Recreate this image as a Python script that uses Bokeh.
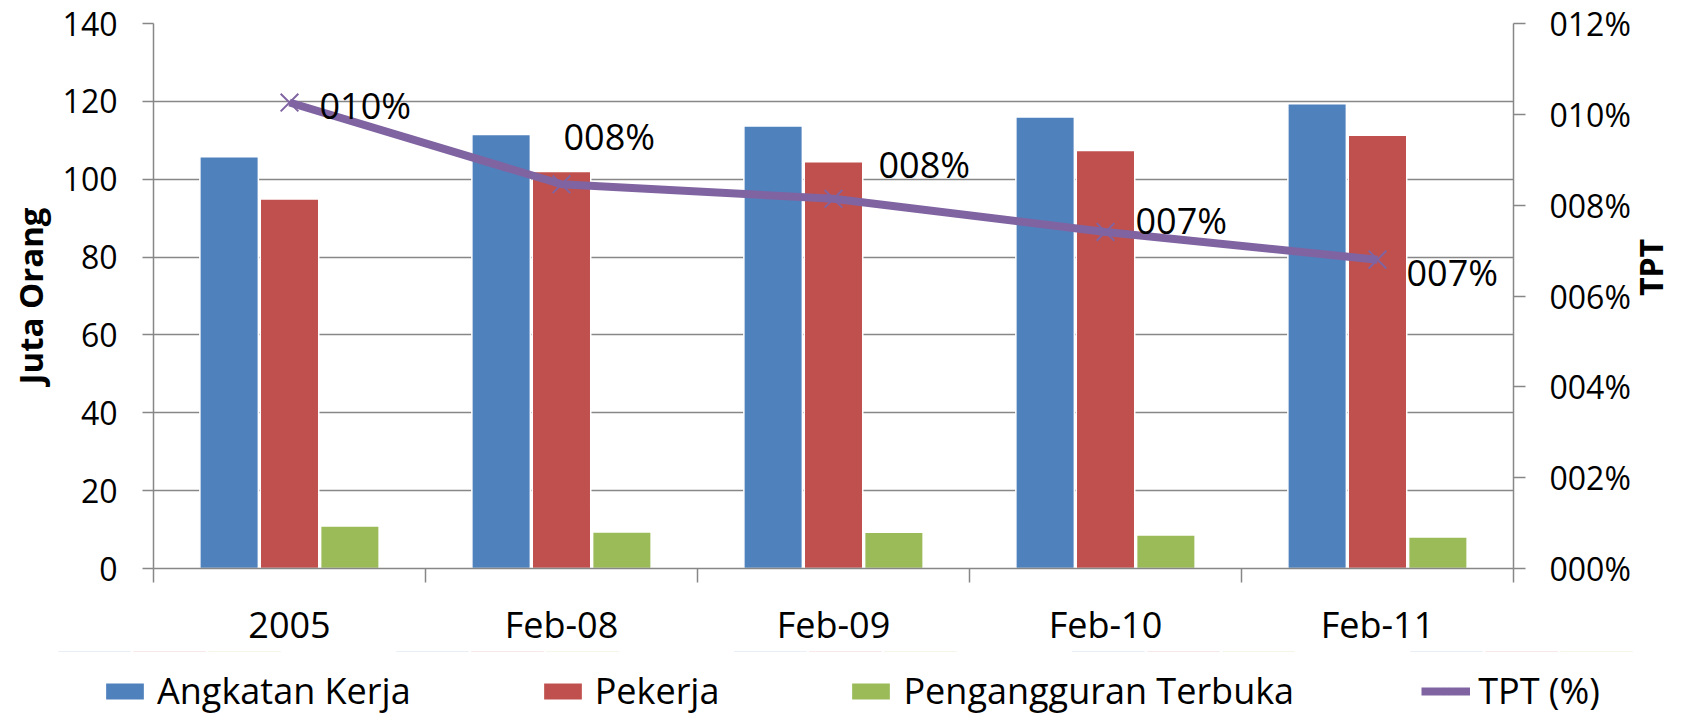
import math
from bokeh.plotting import figure
from bokeh.models import (Range1d, LinearAxis, FixedTicker, ColumnDataSource,
                          Legend, LegendItem)
from bokeh.transform import dodge
from bokeh.core.properties import value
from bokeh.embed import file_html
from bokeh.resources import INLINE

# ---------------- data ----------------
categories = ["2005", "Feb-08", "Feb-09", "Feb-10", "Feb-11"]
angkatan_kerja = [105.8, 111.5, 113.7, 116.0, 119.4]
pekerja = [94.9, 102.0, 104.5, 107.4, 111.3]
pengangguran = [10.9, 9.4, 9.3, 8.6, 8.1]
tpt = [0.1026, 0.0846, 0.0814, 0.0741, 0.0680]

left_ticks = [0, 20, 40, 60, 80, 100, 120, 140]
right_ticks = [0.0, 0.02, 0.04, 0.06, 0.08, 0.10, 0.12]
right_tick_labels = ["000%", "002%", "004%", "006%", "008%", "010%", "012%"]
legend_labels = ["Angkatan Kerja", "Pekerja", "Pengangguran Terbuka", "TPT (%)"]

# manual label placement (pixels, relative to each marker)
label_dx = [30, 2, 45, 30, 29]
label_dy = [3, -48, -34, -11, 13]

FONT = "Open Sans"
GRID = "#878787"
BLUE, RED, GREEN, PURPLE = "#4F81BD", "#C0504D", "#9BBB59", "#8064A2"

xs = list(range(len(categories)))
src = ColumnDataSource(dict(
    x=xs, ak=angkatan_kerja, pk=pekerja, pg=pengangguran, tpt=tpt,
    lbl=[f"{round(v * 100):03d}%" for v in tpt],
    dx=label_dx, dy=label_dy,
))

W = 1690
p = figure(frame_width=1360, frame_height=545, output_backend="svg",
           toolbar_location=None,
           x_range=Range1d(-0.5, len(categories) - 0.5), y_range=Range1d(0, 140),
           min_border_left=153, min_border_right=0, min_border_top=23,
           min_border_bottom=0)
p.outline_line_color = None
p.background_fill_color = "white"
p.border_fill_color = "white"
p.xgrid.visible = False
p.ygrid.grid_line_color = GRID
p.ygrid.grid_line_width = 1.5
p.ygrid.ticker = FixedTicker(ticks=left_ticks)

p.extra_y_ranges = {"tpt": Range1d(0, 0.12)}

bw = 0.215
off = 0.222
bar_style = dict(line_color="white", line_width=1.5)
line_style = dict(line_color=PURPLE, line_width=8)
mark_style = dict(marker="x", size=25, line_color=PURPLE, line_width=2)


def draw_series(fig, **kw):
    """Bars, line and markers of the chart, drawn from the data arrays."""
    b1 = fig.vbar(x=dodge("x", -off, range=fig.x_range), top="ak", width=bw,
                  source=src, fill_color=BLUE, **bar_style)
    b2 = fig.vbar(x=dodge("x", 0, range=fig.x_range), top="pk", width=bw,
                  source=src, fill_color=RED, **bar_style)
    b3 = fig.vbar(x=dodge("x", off, range=fig.x_range), top="pg", width=bw,
                  source=src, fill_color=GREEN, **bar_style)
    ln = fig.line(x="x", y="tpt", source=src, **line_style, **kw)
    mk = fig.scatter(x="x", y="tpt", source=src, **mark_style, **kw)
    return b1, b2, b3, ln, mk


draw_series(p, y_range_name="tpt")
p.text(x="x", y="tpt", text="lbl", source=src, y_range_name="tpt",
       x_offset="dx", y_offset="dy", text_align="left", text_baseline="middle",
       text_font=value(FONT), text_font_size="36px", text_color="black")

# x axis
xa = p.xaxis[0]
xa.ticker = FixedTicker(ticks=xs, minor_ticks=[i - 0.5 for i in range(len(categories) + 1)])
xa.major_label_overrides = {i: c for i, c in enumerate(categories)}
xa.major_tick_out = 0
xa.major_tick_in = 0
xa.minor_tick_out = 14
xa.minor_tick_in = 0
xa.minor_tick_line_color = GRID
xa.minor_tick_line_width = 1.5
xa.axis_line_color = GRID
xa.axis_line_width = 1.5
xa.major_label_standoff = 17
xa.major_label_text_font = FONT
xa.major_label_text_font_size = "36px"
xa.major_label_text_color = "black"

# left axis
ya = p.yaxis[0]
ya.ticker = FixedTicker(ticks=left_ticks)
ya.axis_label = "Juta Orang"
ya.axis_label_text_font = FONT
ya.axis_label_text_font_style = "bold"
ya.axis_label_text_font_size = "33px"
ya.axis_label_text_color = "black"
ya.axis_label_standoff = 7
ya.major_tick_out = 11
ya.major_tick_in = 0
ya.minor_tick_out = 0
ya.minor_tick_in = 0
ya.major_tick_line_color = GRID
ya.major_tick_line_width = 1.5
ya.axis_line_color = GRID
ya.axis_line_width = 1.5
ya.major_label_standoff = 25
ya.major_label_text_font = FONT
ya.major_label_text_font_size = "32px"
ya.major_label_text_color = "black"

# right axis
ra = LinearAxis(y_range_name="tpt", ticker=FixedTicker(ticks=right_ticks))
ra.major_label_overrides = {t: l for t, l in zip(right_ticks, right_tick_labels)}
ra.axis_label = "TPT"
ra.axis_label_text_font = FONT
ra.axis_label_text_font_style = "bold"
ra.axis_label_text_font_size = "32px"
ra.axis_label_text_color = "black"
ra.axis_label_standoff = 17
if "axis_label_orientation" in ra.properties():
    ra.axis_label_orientation = math.pi / 2
ra.major_tick_out = 12
ra.major_tick_in = 0
ra.minor_tick_out = 0
ra.minor_tick_in = 0
ra.major_tick_line_color = GRID
ra.major_tick_line_width = 1.5
ra.axis_line_color = GRID
ra.axis_line_width = 1.5
ra.major_label_standoff = 24
ra.major_label_text_font = FONT
ra.major_label_text_font_size = "32px"
ra.major_label_text_color = "black"
p.add_layout(ra, "right")

# ---------------- legend strip (separate root below the chart) ----------------
# same series drawn into a view range where they fall outside the frame,
# only so that the legend has real renderers to sample its swatches from
pl = figure(width=W, height=64, output_backend="svg", toolbar_location=None,
            x_range=Range1d(-0.5, len(categories) - 0.5), y_range=Range1d(-3, -2),
            x_axis_location=None, y_axis_location=None, min_border=0)
pl.outline_line_color = None
pl.grid.visible = False
pl.background_fill_color = "white"
g1, g2, g3, g4, g5 = draw_series(pl)

legend = Legend(items=[
    LegendItem(label=legend_labels[0], renderers=[g1]),
    LegendItem(label=legend_labels[1], renderers=[g2]),
    LegendItem(label=legend_labels[2], renderers=[g3]),
    LegendItem(label=legend_labels[3], renderers=[g4, g5]),
], orientation="horizontal", location=(100, 0))
legend.label_text_font = FONT
legend.label_text_font_size = "36px"
legend.label_text_color = "black"
legend.glyph_width = 49
legend.glyph_height = 22
legend.label_standoff = 8
legend.spacing = 127
legend.padding = 0
legend.margin = 0
legend.border_line_color = None
legend.background_fill_alpha = 0
pl.add_layout(legend, "center")

open("out.html", "w").write(file_html([p, pl], INLINE))
